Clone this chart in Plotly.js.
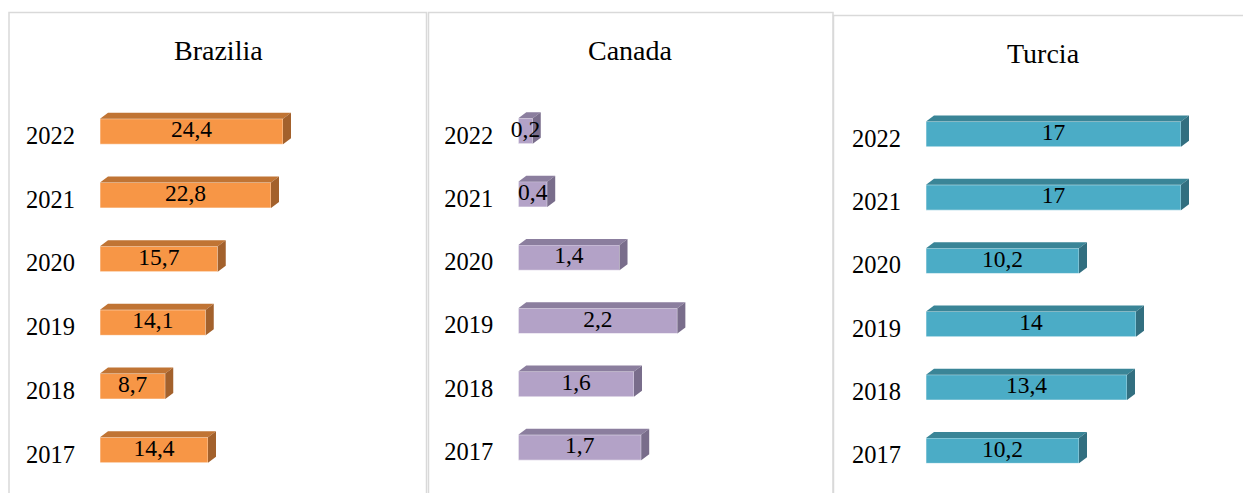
<!DOCTYPE html>
<html><head><meta charset="utf-8">
<script src="https://cdn.plot.ly/plotly-3.0.1.min.js"></script>
<style>html,body{margin:0;padding:0;background:#fff}#chart{width:1243px;height:493px}</style>
</head><body><div id="chart"></div>
<script>
// ---- data ----
const years = ['2017','2018','2019','2020','2021','2022'];
const brazilia = [14.4, 8.7, 14.1, 15.7, 22.8, 24.4];
const canada = [1.7, 1.6, 2.2, 1.4, 0.4, 0.2];
const turcia = [10.2, 13.4, 14, 10.2, 17, 17];
const titles = ['Brazilia', 'Canada', 'Turcia'];

// ---- layout constants (pixels) ----
const W = 1243, H = 493;
const FONT = '"Liberation Serif", "Times New Roman", serif';
const panels = [
  {vals: brazilia, title: titles[0], x0: 100, x1: 420, ppu: 7.5, yTop: 131.5, step: 63.7,
   front: '#F79646', top: '#C07434', side: '#A3612C', tx: 218, ty: 51, frame: [9, 426.5, 12.5]},
  {vals: canada, title: titles[1], x0: 518.3, x1: 825, ppu: 72.3, yTop: 131, step: 63.3,
   front: '#B3A2C7', top: '#8B7E9E', side: '#796D8B', tx: 630.5, ty: 51, frame: [428.5, 833, 12.5]},
  {vals: turcia, title: titles[2], x0: 926, x1: 1235, ppu: 15, yTop: 134.2, step: 63.3,
   front: '#4BACC6', top: '#3A8597', side: '#326F80', tx: 1043, ty: 54, frame: [833.5, 1260, 15.5]}
];
const BAR_W = 0.4, DX = 8, DY = 6;

const traces = [];
const layout = {
  width: W, height: H, margin: {l: 0, r: 0, t: 0, b: 0},
  paper_bgcolor: '#fff', plot_bgcolor: 'rgba(0,0,0,0)', showlegend: false,
  font: {family: FONT, color: '#000'},
  shapes: [], annotations: []
};
const idx = years.map((_, i) => i);

panels.forEach((p, k) => {
  const n = k === 0 ? '' : String(k + 1);
  const xa = 'x' + n, ya = 'y' + n;
  const dx = DX / p.ppu, dy = DY / p.step;
  // front faces
  traces.push({type: 'bar', orientation: 'h', x: p.vals, y: idx, width: BAR_W,
    xaxis: xa, yaxis: ya, marker: {color: p.front, line: {color: 'rgba(255,255,255,0.55)', width: 1}},
    hovertemplate: '%{x}<extra></extra>'});
  // top and side faces
  const tX = [], tY = [], sX = [], sY = [];
  p.vals.forEach((v, i) => {
    const yt = i + BAR_W / 2, yb = i - BAR_W / 2;
    tX.push(0, dx, v + dx, v, 0, null); tY.push(yt, yt + dy, yt + dy, yt, yt, null);
    sX.push(v, v + dx, v + dx, v, v, null); sY.push(yt, yt + dy, yb + dy, yb, yt, null);
  });
  traces.push({type: 'scatter', mode: 'lines', x: tX, y: tY, fill: 'toself', fillcolor: p.top,
    line: {width: 0, color: p.top}, xaxis: xa, yaxis: ya, hoverinfo: 'skip'});
  traces.push({type: 'scatter', mode: 'lines', x: sX, y: sY, fill: 'toself', fillcolor: p.side,
    line: {width: 0, color: p.side}, xaxis: xa, yaxis: ya, hoverinfo: 'skip'});
  // value labels
  traces.push({type: 'scatter', mode: 'text', x: p.vals.map(v => v / 2), y: idx,
    text: p.vals.map(v => String(v).replace('.', ',')), textposition: 'middle center',
    cliponaxis: false,
    textfont: {family: FONT, size: 23.5, color: '#000'}, xaxis: xa, yaxis: ya, hoverinfo: 'skip'});
  // axes
  const yBottomPx = p.yTop + 5.5 * p.step, yTopPx = p.yTop - 0.5 * p.step;
  layout['xaxis' + n] = {domain: [p.x0 / W, p.x1 / W], range: [0, (p.x1 - p.x0) / p.ppu],
    showgrid: false, zeroline: false, showline: false, showticklabels: false, ticks: '',
    anchor: ya, fixedrange: true};
  layout['yaxis' + n] = {domain: [1 - yBottomPx / H, 1 - yTopPx / H], range: [-0.5, 5.5],
    tickvals: idx, ticktext: years, showgrid: false, zeroline: false, showline: false, ticks: '',
    ticklabelstandoff: 24, ticklabelshift: 4,
    tickfont: {family: FONT, size: 24.5, color: '#000'}, anchor: xa, fixedrange: true};
  // title
  layout.annotations.push({text: p.title, xref: 'paper', yref: 'paper', x: p.tx / W, y: 1 - p.ty / H,
    xanchor: 'center', yanchor: 'middle', showarrow: false, font: {family: FONT, size: 28, color: '#000'}});
  // frame
  const [fl, fr, ft] = p.frame;
  layout.shapes.push({type: 'rect', xref: 'paper', yref: 'paper', x0: fl / W, x1: fr / W,
    y0: -0.2, y1: 1 - ft / H, line: {color: '#D9D9D9', width: 1.5}, fillcolor: 'rgba(0,0,0,0)', layer: 'below'});
});

Plotly.newPlot('chart', traces, layout, {displayModeBar: false, staticPlot: false});
</script></body></html>
